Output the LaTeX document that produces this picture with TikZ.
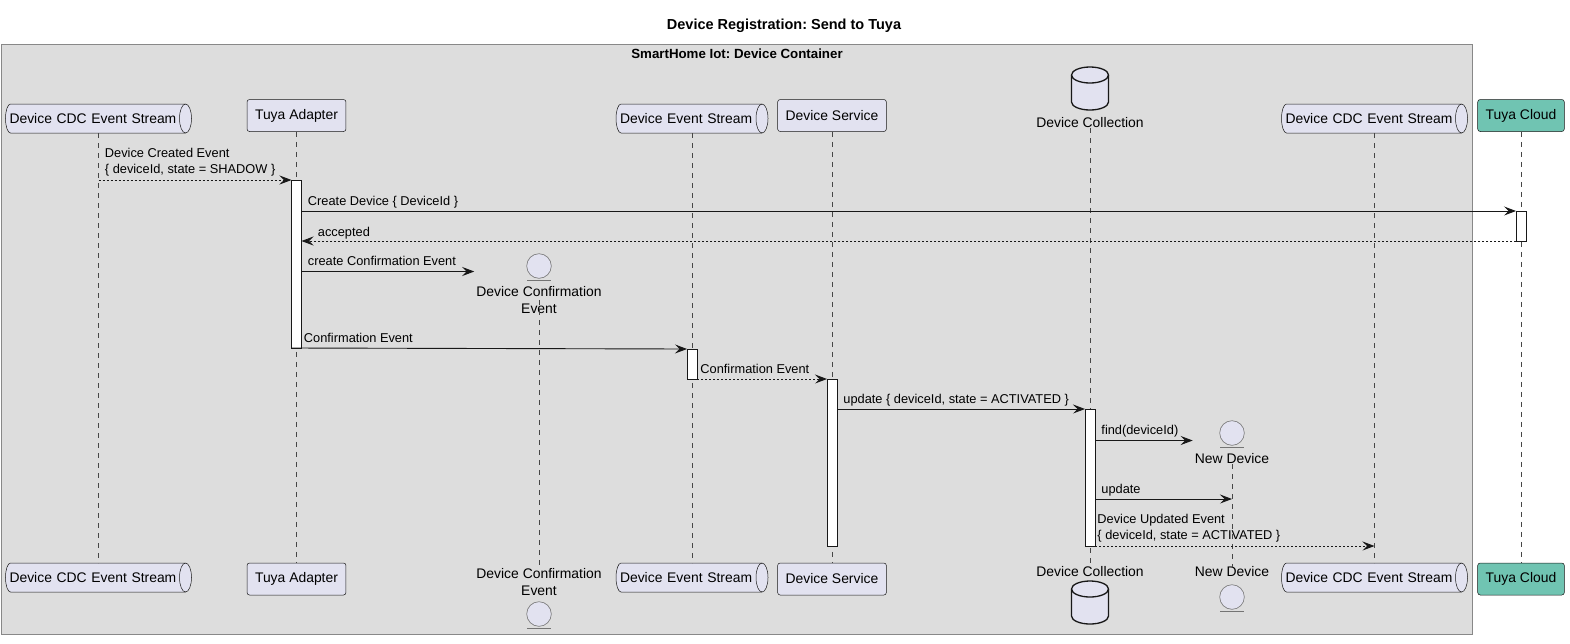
\documentclass[tikz,border=0pt]{standalone}
\usepackage{fontspec}
\setmainfont{Liberation Sans}
\usetikzlibrary{arrows.meta}
\frenchspacing

\definecolor{partfill}{HTML}{E2E2F0}
\definecolor{lineclr}{HTML}{181818}
\definecolor{contfill}{HTML}{DDDDDD}
\definecolor{contline}{HTML}{888888}
\definecolor{cloudfill}{HTML}{70C4B2}

\pgfdeclarelayer{back}
\pgfdeclarelayer{mid}
\pgfsetlayers{back,mid,main}

\newcommand{\partfont}{\fontsize{13.9}{17}\selectfont}
\newcommand{\msgfont}{\fontsize{12.8}{16}\selectfont}

% queue outline behind a queue node
\newcommand{\queueshape}[1]{%
  \begin{pgfonlayer}{mid}
    \draw[lineclr, line width=0.5pt, fill=partfill] ([xshift=5pt]#1.north west) -- ([xshift=-6pt]#1.north east)
      arc (90:-90:6pt and 14.5pt) -- ([xshift=5pt]#1.south west) arc (270:90:5pt and 14.5pt) -- cycle;
    \draw[lineclr, line width=0.5pt] ([xshift=-6pt]#1.north east) arc (90:270:6pt and 14.5pt);
  \end{pgfonlayer}}

% database icon, #1 = centre of the top ellipse
\newcommand{\dbicon}[1]{%
  \draw[lineclr, line width=1.3pt, fill=partfill] ([xshift=-18.5pt]#1) -- ++(0,-27)
    arc (180:360:18.5pt and 8pt) -- ++(0,27) arc (0:180:18.5pt and 8pt) -- cycle;
  \draw[lineclr, line width=1.3pt] ([xshift=-18.5pt]#1) arc (180:360:18.5pt and 8pt);}

% entity underline
\newcommand{\entitybar}[1]{%
  \draw[lineclr!60, line width=0.6pt] ([xshift=-12pt,yshift=-1.5pt]#1.south) -- ([xshift=12pt,yshift=-1.5pt]#1.south);}

\tikzset{
  participant/.style={draw=lineclr, line width=0.5pt, fill=partfill, rounded corners=2.5pt,
    minimum height=32pt, inner xsep=8pt, inner ysep=0pt, font=\partfont},
  queue/.style={text width=#1, align=left, minimum height=29pt, inner xsep=4pt,
    inner ysep=0pt, outer sep=0pt, font=\partfont},
  entitylabel/.style={font=\partfont, align=center, inner xsep=2pt, inner ysep=0pt},
  entityicon/.style={circle, draw=lineclr!60, line width=0.6pt, fill=partfill,
    minimum size=24.6pt, inner sep=0pt},
  actbar/.style={draw=lineclr, line width=0.8pt, fill=white, minimum width=10pt,
    inner sep=0pt, outer sep=0pt},
  lifeline/.style={draw=lineclr!80, line width=0.5pt, dash pattern=on 5pt off 5pt},
  msg/.style={draw=lineclr, line width=0.9pt, -{Stealth[length=12pt,width=9pt,inset=4.5pt]}},
  reply/.style={msg, dash pattern=on 2pt off 2pt},
  msglabel/.style={font=\msgfont, inner sep=0pt, anchor=base west},
  msglabel2/.style={font=\msgfont, inner sep=0pt, anchor=south west, align=left},
}

\begin{document}
\begin{tikzpicture}[x=1pt, y=1pt]
    \useasboundingbox (0,0) rectangle (1570,-643);

    % Titles and container
    \node[font=\fontsize{14.5}{17}\selectfont\bfseries] (title) at (784,-25.5) {Device Registration: Send to Tuya};
    \begin{pgfonlayer}{back}
      \draw[draw=contline, fill=contfill, line width=1pt] (1,-44) rectangle (1472,-634);
    \end{pgfonlayer}
    \node[font=\fontsize{13.3}{16}\selectfont\bfseries] (box) at (737,-53.5) {SmartHome Iot: Device Container};

    % Participants (top)
    \node[queue=178pt] (cdcA) at (98.5,-118.5) {Device CDC Event Stream};
    \queueshape{cdcA}
    \node[participant] (ta) at (296.5,-115.5) {Tuya Adapter};
    \node[queue=144pt] (des) at (692,-118.5) {Device Event Stream};
    \queueshape{des}
    \node[participant] (ds) at (832,-115.5) {Device Service};
    \coordinate (dcTop) at (1090,-75);
    \dbicon{dcTop}
    \node[entitylabel] (dc) at (1090,-123) {Device Collection};
    \node[queue=178pt] (cdcB) at (1374.5,-118.5) {Device CDC Event Stream};
    \queueshape{cdcB}
    \node[participant, fill=cloudfill] (tc) at (1521,-115.5) {Tuya Cloud};

    % Participants (bottom)
    \node[queue=178pt] (cdcA2) at (98.5,-577.5) {Device CDC Event Stream};
    \queueshape{cdcA2}
    \node[participant] (ta2) at (296.5,-579) {Tuya Adapter};
    \node[entitylabel] (dce2) at (539,-582) {Device Confirmation\\Event};
    \node[entityicon] (dceIcon2) at (539,-614) {};
    \entitybar{dceIcon2}
    \node[queue=144pt] (des2) at (692,-577.5) {Device Event Stream};
    \queueshape{des2}
    \node[participant] (ds2) at (832,-579) {Device Service};
    \node[entitylabel] (dc2) at (1090,-572) {Device Collection};
    \coordinate (dcTop2) at (1090,-589);
    \dbicon{dcTop2}
    \node[entitylabel] (nd2) at (1232,-572) {New Device};
    \node[entityicon] (ndIcon2) at (1232,-597) {};
    \entitybar{ndIcon2}
    \node[queue=178pt] (cdcB2) at (1374.5,-577.5) {Device CDC Event Stream};
    \queueshape{cdcB2}
    \node[participant, fill=cloudfill] (tc2) at (1521,-579) {Tuya Cloud};

    % Created participants
    \node[entityicon] (dceIcon) at (539,-266) {};
    \entitybar{dceIcon}
    \node[entitylabel] (dce) at (539,-300) {Device Confirmation\\Event};
    \node[entityicon] (ndIcon) at (1232,-433) {};
    \entitybar{ndIcon}
    \node[entitylabel] (nd) at (1232,-459) {New Device};

    % Lifelines
    \draw[lifeline] (cdcA.south) -- (cdcA2.north);
    \draw[lifeline] (ta.south) -- (ta2.north);
    \draw[lifeline] (dce.center) -- (dce2.north);
    \draw[lifeline] (des.south) -- (des2.north);
    \draw[lifeline] (ds.south) -- (ds2.north);
    \draw[lifeline] (dc.south) -- (dc2.north);
    \draw[lifeline] (nd.south) -- (nd2.north);
    \draw[lifeline] (cdcB.south) -- (cdcB2.north);
    \draw[lifeline] (tc.south) -- (tc2.north);

    % Activations
    \node[actbar, minimum height=168pt] (actTA) at (296.5,-264) {};
    \node[actbar, minimum height=30pt] (actTC) at (1521,-226) {};
    \node[actbar, minimum height=30pt] (actES) at (692,-364) {};
    \node[actbar, minimum height=167pt] (actDS) at (832,-462.5) {};
    \node[actbar, minimum height=137pt] (actDC) at (1090,-477.5) {};

    % Message levels
    \coordinate (lvCreate) at (0,-271.5);
    \coordinate (lvFind) at (0,-440.5);
    \coordinate (lvUpd) at (0,-499);

    % Messages
    \draw[reply] (cdcA.south |- actTA.north) -- (actTA.north west)
        node[msglabel2, at start, xshift=6pt, yshift=3pt] {Device Created Event\\\{ deviceId, state = SHADOW \}};
    \draw[msg] (actTA.east |- actTC.north) -- (actTC.north west)
        node[msglabel, at start, xshift=6pt, yshift=6pt] {Create Device \{ DeviceId \}};
    \draw[reply] (actTC.south west) -- (actTA.east |- actTC.south)
        node[msglabel, at end, xshift=16pt, yshift=5pt] {accepted};
    \draw[msg] (actTA.east |- lvCreate) -- (dce.west |- lvCreate)
        node[msglabel, at start, xshift=6pt, yshift=6pt] {create Confirmation Event};
    \draw[msg] (actTA.south west) -- (actES.north west)
        node[msglabel, at start, xshift=12pt, yshift=6pt] {Confirmation Event};
    \draw[reply] (actES.south east) -- (actDS.north west)
        node[msglabel, at start, xshift=3pt, yshift=6pt] {Confirmation Event};
    \draw[msg] (actDS.east |- actDC.north) -- (actDC.north west)
        node[msglabel, at start, xshift=6pt, yshift=6pt] {update \{ deviceId, state = ACTIVATED \}};
    \draw[msg] (actDC.east |- lvFind) -- (nd.west |- lvFind)
        node[msglabel, at start, xshift=6pt, yshift=6pt] {find(deviceId)};
    \draw[msg] (actDC.east |- lvUpd) -- (nd.center |- lvUpd)
        node[msglabel, at start, xshift=6pt, yshift=6pt] {update};
    \draw[reply] (actDC.south east) -- (cdcB.south |- actDC.south)
        node[msglabel2, at start, xshift=2pt, yshift=3pt] {Device Updated Event\\\{ deviceId, state = ACTIVATED \}};
\end{tikzpicture}
\end{document}
